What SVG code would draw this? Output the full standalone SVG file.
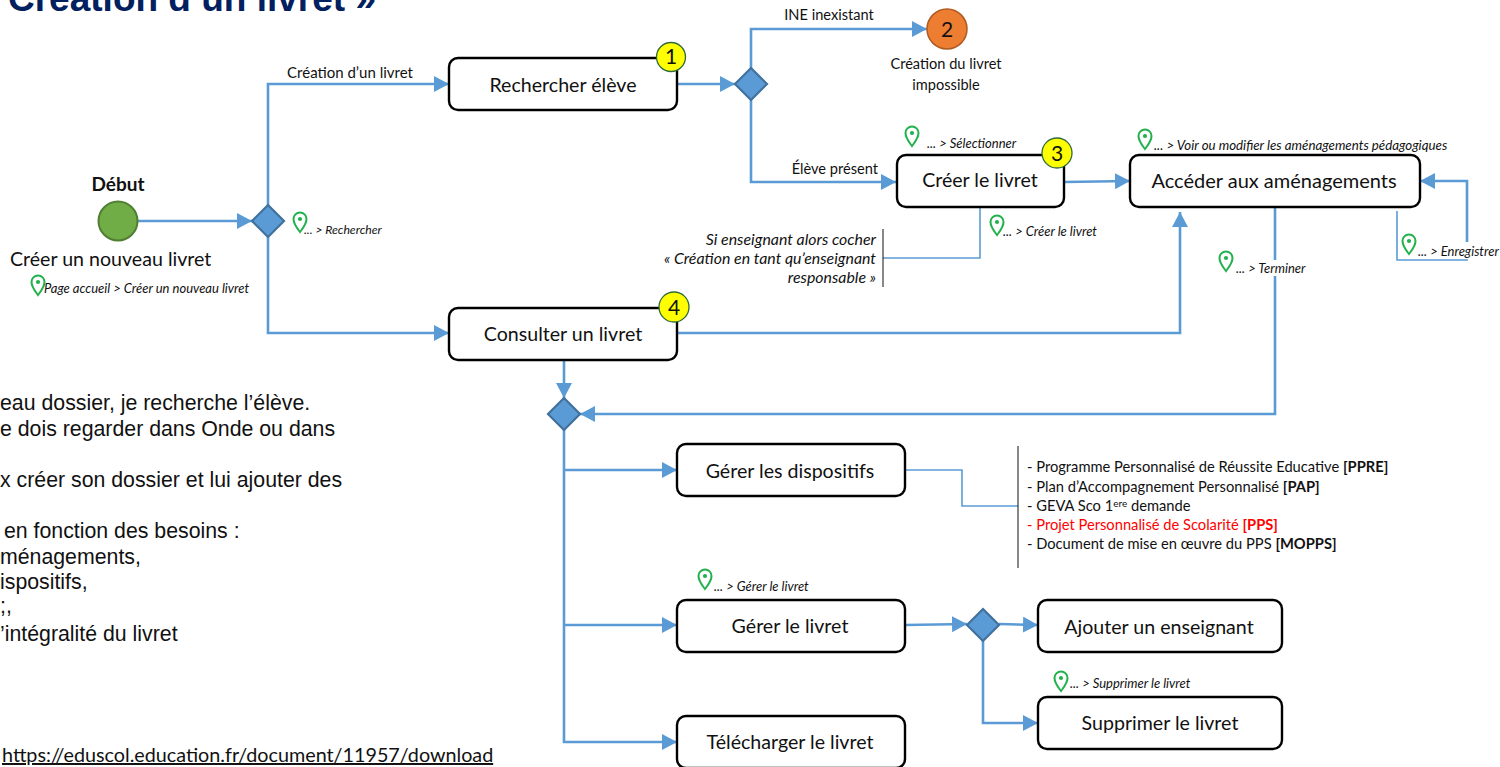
<svg xmlns="http://www.w3.org/2000/svg" width="1500" height="767" viewBox="0 0 1500 767">
<style>
text{font-family:"Lato","Carlito","Open Sans",sans-serif;fill:#111}
.ar{font-family:"Liberation Sans",Arial,sans-serif;font-size:21.3px}
.box{fill:#fff;stroke:#000;stroke-width:2.4}
.dia{fill:#5b9bd5;stroke:#41719c;stroke-width:2.2}
.c{fill:none;stroke:#5b9bd5;stroke-width:2.6}
.t{fill:none;stroke:#5b9bd5;stroke-width:1.6}
.blk{fill:none;stroke:#111;stroke-width:1}
.lb{font-size:19.6px;text-anchor:middle}
.sm{font-size:14.6px}
.it{font-size:13px;font-style:italic}
.num{font-size:21px;text-anchor:middle}
.ye{fill:#ff0;stroke:#2f6b3a;stroke-width:1.3}
.li{font-size:14.7px}
</style>
<defs>
<marker id="a" markerUnits="userSpaceOnUse" markerWidth="16" markerHeight="16" refX="15" refY="8" orient="auto"><path d="M0 0L15 8L0 16Z" fill="#5b9bd5"/></marker>
<g id="pin"><path d="M0 10C-3 6 -6.500 2 -6.500 -3A6.500 6.500 0 0 1 6.500 -3C6.500 2 3 6 0 10Z" fill="#fff" stroke="#22b14c" stroke-width="2"/><circle cy="-3" r="2.100" fill="#22b14c"/></g>
</defs>
<text x="8" y="11" style="font-family:'Liberation Sans',Arial,sans-serif;font-weight:bold;font-size:37px;fill:#002060">Création d’un livret »</text>
<g id="connectors">
<path class="c" d="M138 221H252" marker-end="url(#a)"/>
<path class="c" d="M268 205V84H449" marker-end="url(#a)"/>
<path class="c" d="M268 237V333H449" marker-end="url(#a)"/>
<path class="c" d="M678 84H735" marker-end="url(#a)"/>
<path class="c" d="M751 68V29H927" marker-end="url(#a)"/>
<path class="c" d="M751 100V182H896" marker-end="url(#a)"/>
<path class="c" d="M1064 182L1130 181" marker-end="url(#a)"/>
<path class="c" d="M678 333H1180V212" marker-end="url(#a)"/>
<path class="c" d="M1275 207V414H580" marker-end="url(#a)"/>
<path class="t" d="M1397 211V260H1468"/>
<path class="c" d="M1467 242V181H1420" marker-end="url(#a)"/>
<path class="c" d="M564 360V398" marker-end="url(#a)"/>
<path class="c" d="M564 430V742H677" marker-end="url(#a)"/>
<path class="c" d="M564 470H677" marker-end="url(#a)"/>
<path class="c" d="M564 625H677" marker-end="url(#a)"/>
<path class="c" d="M905 625L967 624" marker-end="url(#a)"/>
<path class="c" d="M999 624L1038 625" marker-end="url(#a)"/>
<path class="c" d="M983 641V723H1038" marker-end="url(#a)"/>
<path class="t" d="M905 470H962V506H1018"/>
<path class="t" d="M980 207V258H883"/>
<path class="blk" d="M883 229V287"/>
<path class="blk" d="M1018 446V568"/>
</g>
<g id="debut"><text x="118" y="191" text-anchor="middle" style="font-size:19px;font-weight:bold">Début</text><circle cx="118" cy="221" r="19.500" fill="#70ad47" stroke="#507e32" stroke-width="2"/><text x="10" y="266" style="font-size:19.600px">Créer un nouveau livret</text></g>
<g id="d1"><path class="dia" d="M268 205L284 221L268 237L252 221Z"/></g>
<g id="d2"><path class="dia" d="M751 68L767 84L751 100L735 84Z"/></g>
<g id="d3"><path class="dia" d="M564 398L580 414L564 430L548 414Z"/></g>
<g id="d4"><path class="dia" d="M983 609L999 625L983 641L967 625Z"/></g>
<g id="rechercher"><rect class="box" x="449" y="58" width="228" height="52" rx="9"/><text class="lb" x="563" y="92">Rechercher élève</text><circle class="ye" cx="671" cy="57" r="14.500"/><text class="num" x="671" y="64">1</text></g>
<g id="consulter"><rect class="box" x="449" y="308" width="228" height="52" rx="9"/><text class="lb" x="563" y="341">Consulter un livret</text><circle class="ye" cx="674" cy="307" r="15"/><text class="num" x="674" y="315">4</text></g>
<g id="creer"><rect class="box" x="897" y="155" width="167" height="52" rx="9"/><text class="lb" x="980" y="187">Créer le livret</text><circle class="ye" cx="1057" cy="153" r="15"/><text class="num" x="1057" y="161">3</text></g>
<g id="acceder"><rect class="box" x="1130" y="155" width="290" height="52" rx="9"/><text class="lb" x="1274" y="188" style="font-size:20px">Accéder aux aménagements</text></g>
<g id="gerer-dispositifs"><rect class="box" x="677" y="444" width="228" height="52" rx="9"/><text class="lb" x="790" y="478">Gérer les dispositifs</text></g>
<g id="gerer-livret"><rect class="box" x="677" y="600" width="228" height="52" rx="9"/><text class="lb" x="790" y="633">Gérer le livret</text></g>
<g id="telecharger"><rect class="box" x="677" y="716" width="228" height="52" rx="9"/><text class="lb" x="790" y="749">Télécharger le livret</text></g>
<g id="ajouter"><rect class="box" x="1038" y="600" width="244" height="52" rx="9"/><text class="lb" x="1159" y="634">Ajouter un enseignant</text></g>
<g id="supprimer"><rect class="box" x="1038" y="697" width="244" height="52" rx="9"/><text class="lb" x="1160" y="730">Supprimer le livret</text></g>
<g id="n2"><circle cx="947" cy="29" r="20" fill="#ed7d31" stroke="#ae5a21" stroke-width="1.500"/><text class="num" x="947" y="37">2</text><text class="sm" x="946" y="69" text-anchor="middle">Création du livret</text><text class="sm" x="946" y="90" text-anchor="middle">impossible</text></g>
<g id="labels">
<text class="sm" x="350" y="78" text-anchor="middle" style="font-size:15px">Création d’un livret</text>
<text class="sm" x="829" y="20" text-anchor="middle">INE inexistant</text>
<text class="sm" x="878" y="174" text-anchor="end">Élève présent</text>
<g style="font-size:15.900px;font-style:italic;text-anchor:end"><text x="876" y="245">Si enseignant alors cocher</text><text x="876" y="264">« Création en tant qu’enseignant</text><text x="876" y="283">responsable »</text></g>
<use href="#pin" x="300" y="222"/><text class="it" x="304" y="234" style="font-size:12.2px">... &gt; Rechercher</text>
<use href="#pin" x="38" y="285"/><text class="it" x="44" y="293">Page accueil &gt; Créer un nouveau livret</text>
<use href="#pin" x="912" y="136"/><text class="it" x="927" y="148">... &gt; Sélectionner</text>
<use href="#pin" x="1145" y="139"/><text class="it" x="1154" y="150" style="font-size:13.3px">... &gt; Voir ou modifier les aménagements pédagogiques</text>
<use href="#pin" x="997" y="225"/><text class="it" x="1003" y="236">... &gt; Créer le livret</text>
<rect x="1262" y="260" width="48" height="16" fill="#fff"/>
<use href="#pin" x="1226" y="261"/><text class="it" x="1236" y="273">... &gt; Terminer</text>
<use href="#pin" x="1409" y="244"/><text class="it" x="1418" y="256">... &gt; Enregistrer</text>
<use href="#pin" x="705" y="579"/><text class="it" x="714" y="591">... &gt; Gérer le livret</text>
<use href="#pin" x="1061" y="681"/><text class="it" x="1070" y="688">... &gt; Supprimer le livret</text>
</g>
<g id="liste">
<text class="li" x="1027" y="472">- Programme Personnalisé de Réussite Educative <tspan font-weight="bold">[PPRE]</tspan></text>
<text class="li" x="1027" y="492">- Plan d’Accompagnement Personnalisé <tspan font-weight="bold">[PAP]</tspan></text>
<text class="li" x="1027" y="511">- GEVA Sco 1<tspan font-size="10" dy="-4">ere</tspan><tspan dy="4"> demande</tspan></text>
<text class="li" x="1027" y="530" style="fill:#f00">- Projet Personnalisé de Scolarité <tspan font-weight="bold">[PPS]</tspan></text>
<text class="li" x="1027" y="549">- Document de mise en œuvre du PPS <tspan font-weight="bold">[MOPPS]</tspan></text>
</g>
<g id="notes">
<text class="ar" x="0" y="410">eau dossier, je recherche l’élève.</text>
<text class="ar" x="0" y="436">e dois regarder dans Onde ou dans</text>
<text class="ar" x="0" y="487">x créer son dossier et lui ajouter des</text>
<text class="ar" x="4" y="538">en fonction des besoins :</text>
<text class="ar" x="0" y="564">ménagements,</text>
<text class="ar" x="0" y="589">ispositifs,</text>
<text class="ar" x="0" y="613">;,</text>
<text class="ar" x="0" y="641">’intégralité du livret</text>
</g>
<text x="2" y="762" style="font-size:19.750px;text-decoration:underline">https://eduscol.education.fr/document/11957/download</text>
</svg>
